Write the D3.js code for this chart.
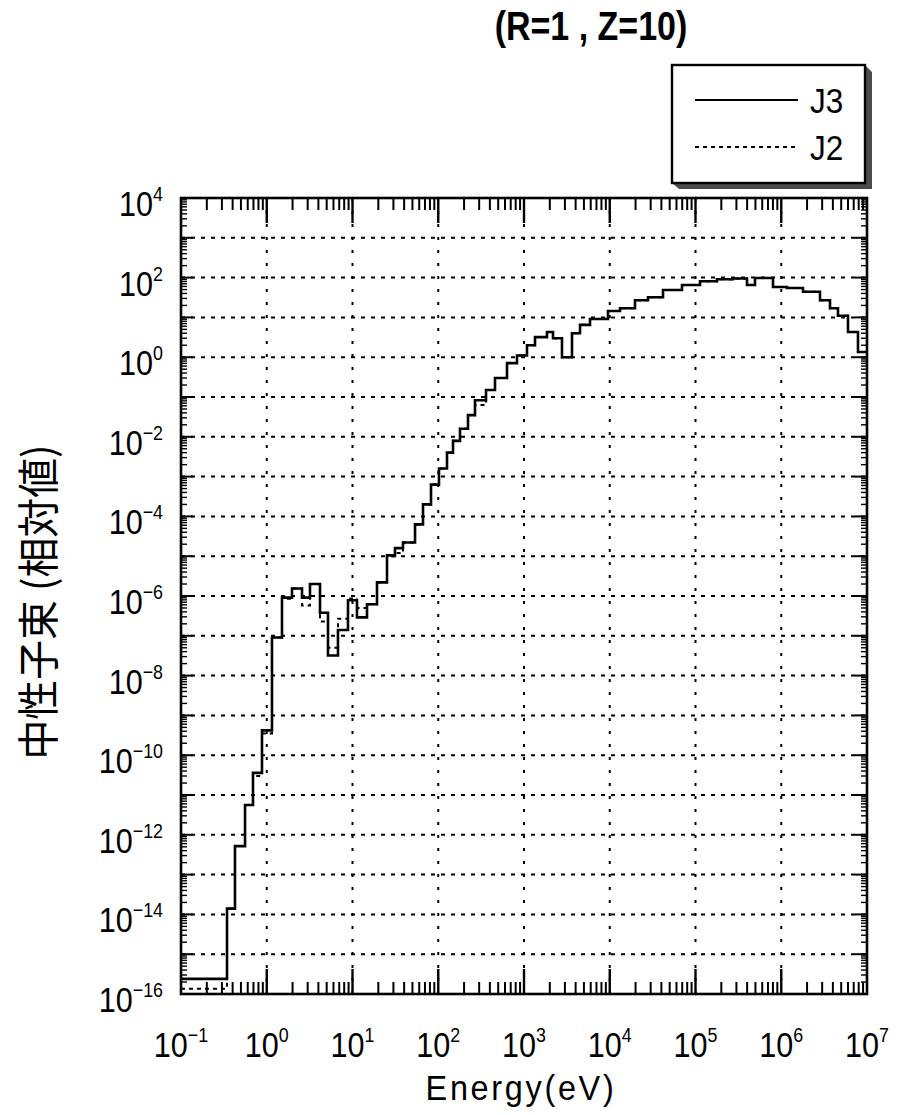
<!DOCTYPE html>
<html><head><meta charset="utf-8">
<script src="https://cdn.jsdelivr.net/npm/d3@7/dist/d3.min.js"></script>
<style>body{margin:0;background:#fff}</style>
</head><body>
<svg id="c" width="899" height="1115"></svg>
<script>
// ---- data ----
const binEdges = [0.1, 0.344, 0.426, 0.558, 0.691, 0.880, 1.151, 1.506, 1.970, 2.577, 3.193,
  4.178, 5.18, 6.77, 8.86, 11.28, 14.76, 19.31, 25.25, 31.3, 38.8,
  53.6, 66.4, 82.3, 102, 126.5, 148.6, 179.3, 222.3, 268.3, 360.5,
  458.9, 633.5, 828.6, 1084, 1344, 1854, 2179, 2774, 3629, 4500,
  5886, 9541, 13170, 19700, 27930, 41780, 69600, 112900, 178100, 273700,
  398800, 494100, 801200, 1.167e6, 1.793e6, 2.83e6, 3.702e6, 4.589e6, 6.003e6, 7.852e6, 1e7];
const j3Values = [2.4e-16, 1.4e-14, 5.2e-13, 5.6e-12, 3.6e-11, 4.2e-10, 9.1e-8, 9.1e-7, 1.55e-6, 9.1e-7,
  2.0e-6, 3.8e-7, 3.2e-8, 1.4e-7, 7.8e-7, 2.9e-7, 6.2e-7, 2.2e-6, 1.05e-5, 1.6e-5,
  2.2e-5, 6.3e-5, 2.0e-4, 6.3e-4, 1.6e-3, 4.0e-3, 7.9e-3, 1.6e-2, 3.5e-2, 8.3e-2,
  0.15, 0.30, 0.71, 1.1, 2.0, 3.2, 4.3, 3.0, 1.0, 4.0,
  6.5, 9.1, 14.5, 17, 27, 32, 49, 65, 81, 91,
  95, 65, 98, 58, 55, 44, 27, 17, 11, 4.3, 1.35];
const j2Values = [1.35e-16, 1.4e-14, 5.2e-13, 5.6e-12, 3.0e-11, 3.5e-10, 9.1e-8, 8.5e-7, 1.55e-6, 5.8e-7,
  2.0e-6, 2.3e-7, 5.0e-8, 2.7e-7, 8.7e-7, 5.0e-7, 6.2e-7, 2.2e-6, 1.0e-5, 1.2e-5,
  2.2e-5, 6.3e-5, 2.0e-4, 6.3e-4, 1.6e-3, 4.0e-3, 7.9e-3, 1.6e-2, 3.5e-2, 6.3e-2,
  0.15, 0.30, 0.71, 1.1, 2.0, 3.2, 4.3, 3.0, 1.0, 4.0,
  6.5, 9.1, 14.5, 17, 27, 32, 49, 65, 81, 91,
  95, 65, 98, 58, 55, 44, 27, 17, 11, 4.3, 1.35];
const xTickExps = [-1, 0, 1, 2, 3, 4, 5, 6, 7];
const yTickExps = [4, 2, 0, -2, -4, -6, -8, -10, -12, -14, -16];
const seriesNames = ["J3", "J2"];
const titleText = "(R=1 , Z=10)";
const xLabelText = "Energy(eV)";
const yLabelText = "中性子束 (相対値)";

// ---- layout ----
const L = 181, R = 867, T = 198, B = 994;
const SANS = '"Liberation Sans",Arial,sans-serif';
const SX = 0.85;
const svg = d3.select("#c");
const x = d3.scaleLog().domain([1e-1, 1e7]).range([L, R]);
const y = d3.scaleLog().domain([1e-16, 1e4]).range([B, T]);

// gridlines
const gx = d3.range(0, 7).map(k => Math.pow(10, k));
const gy = d3.range(-15, 4).map(k => Math.pow(10, k));
svg.append("g").selectAll("line").data(gx).join("line")
  .attr("x1", d => x(d)).attr("x2", d => x(d)).attr("y1", T).attr("y2", B)
  .attr("stroke", "#000").attr("stroke-width", 2).attr("stroke-dasharray", "3 10");
svg.append("g").selectAll("line").data(gy).join("line")
  .attr("y1", d => y(d)).attr("y2", d => y(d)).attr("x1", L).attr("x2", R)
  .attr("stroke", "#000").attr("stroke-width", 2).attr("stroke-dasharray", "4 6");

// curves
svg.append("clipPath").attr("id", "clip").append("rect")
  .attr("x", L).attr("y", T).attr("width", R - L).attr("height", B - T);
const stepLine = d3.line().x(d => x(d[0])).y(d => y(d[1])).curve(d3.curveStepAfter);
function pts(vals) {
  const p = vals.map((v, i) => [binEdges[i], v]);
  p.push([binEdges[binEdges.length - 1], vals[vals.length - 1]]);
  return p;
}
const cg = svg.append("g").attr("clip-path", "url(#clip)");
cg.append("path").attr("d", stepLine(pts(j2Values))).attr("fill", "none")
  .attr("stroke", "#000").attr("stroke-width", 2).attr("stroke-dasharray", "4 4");
cg.append("path").attr("d", stepLine(pts(j3Values))).attr("fill", "none")
  .attr("stroke", "#000").attr("stroke-width", 2.6);

// ticks
const tk = svg.append("g").attr("stroke", "#000");
const xMinor = [], xMajor = [];
for (let k = -1; k < 7; k++) { for (let m = 2; m <= 9; m++) xMinor.push(m * Math.pow(10, k)); }
for (let k = 0; k < 7; k++) xMajor.push(Math.pow(10, k));
xMinor.forEach(v => {
  tk.append("line").attr("x1", x(v)).attr("x2", x(v)).attr("y1", B).attr("y2", B - 12).attr("stroke-width", 2);
  tk.append("line").attr("x1", x(v)).attr("x2", x(v)).attr("y1", T).attr("y2", T + 12).attr("stroke-width", 2);
});
xMajor.forEach(v => {
  tk.append("line").attr("x1", x(v)).attr("x2", x(v)).attr("y1", B).attr("y2", B - 25).attr("stroke-width", 2.4);
  tk.append("line").attr("x1", x(v)).attr("x2", x(v)).attr("y1", T).attr("y2", T + 25).attr("stroke-width", 2.4);
});
const yMinor = [], yMajor = [];
for (let k = -16; k < 4; k++) { for (let m = 2; m <= 9; m++) yMinor.push(m * Math.pow(10, k)); }
for (let k = -15; k < 4; k++) yMajor.push(Math.pow(10, k));
yMinor.forEach(v => {
  tk.append("line").attr("y1", y(v)).attr("y2", y(v)).attr("x1", L).attr("x2", L + 6).attr("stroke-width", 1.4);
  tk.append("line").attr("y1", y(v)).attr("y2", y(v)).attr("x1", R).attr("x2", R - 6).attr("stroke-width", 1.4);
});
yMajor.forEach(v => {
  tk.append("line").attr("y1", y(v)).attr("y2", y(v)).attr("x1", L).attr("x2", L + 12).attr("stroke-width", 2);
  tk.append("line").attr("y1", y(v)).attr("y2", y(v)).attr("x1", R).attr("x2", R - 12).attr("stroke-width", 2);
});

// frame
svg.append("rect").attr("x", L).attr("y", T).attr("width", R - L).attr("height", B - T)
  .attr("fill", "none").attr("stroke", "#000").attr("stroke-width", 2.6);

// condensed text helper
function ctext(px, py, sx) {
  return svg.append("text").attr("transform", `translate(${px},${py}) scale(${sx},1)`)
    .attr("font-family", SANS);
}
function expLabel(sel, e) {
  sel.append("tspan").text("10");
  sel.append("tspan").attr("font-size", 21).attr("dy", -15).text(e < 0 ? "\u2212" + (-e) : String(e));
}
xTickExps.forEach(e => {
  const t = ctext(x(Math.pow(10, e)), 1057, SX).attr("text-anchor", "middle").attr("font-size", 36);
  expLabel(t, e);
});
yTickExps.forEach(e => {
  const t = ctext(163, y(Math.pow(10, e)) + 18, SX).attr("text-anchor", "end").attr("font-size", 36);
  expLabel(t, e);
});

// axis titles
ctext(521, 1100, 0.9).attr("text-anchor", "middle").attr("font-size", 36)
  .attr("letter-spacing", 3).text(xLabelText);
svg.append("text").attr("transform", "translate(35,602) rotate(-90)")
  .attr("text-anchor", "middle").attr("dominant-baseline", "central")
  .attr("font-family", '"Noto Sans CJK JP","Noto Sans CJK SC",sans-serif').attr("font-size", 42)
  .attr("textLength", 315).attr("lengthAdjust", "spacingAndGlyphs").text(yLabelText);

// title
ctext(591, 40, SX).attr("text-anchor", "middle").attr("font-weight", "bold")
  .attr("font-size", 40).text(titleText);

// legend
const lg = svg.append("g");
lg.append("path").attr("d", "M865,65 L872,72 L872,189 L679,189 L672,183 L865,183 Z").attr("fill", "#4a4a4a");
lg.append("rect").attr("x", 672).attr("y", 65).attr("width", 193).attr("height", 118)
  .attr("fill", "#fff").attr("stroke", "#000").attr("stroke-width", 2.4);
const legendRows = [{ name: seriesNames[0], dash: null, yy: 100 }, { name: seriesNames[1], dash: "4 4", yy: 147 }];
legendRows.forEach(r => {
  lg.append("line").attr("x1", 695).attr("x2", 798).attr("y1", r.yy).attr("y2", r.yy)
    .attr("stroke", "#000").attr("stroke-width", 2).attr("stroke-dasharray", r.dash);
  ctext(810, r.yy + 13, 0.9).attr("font-size", 35).text(r.name);
});
</script>
</body></html>
